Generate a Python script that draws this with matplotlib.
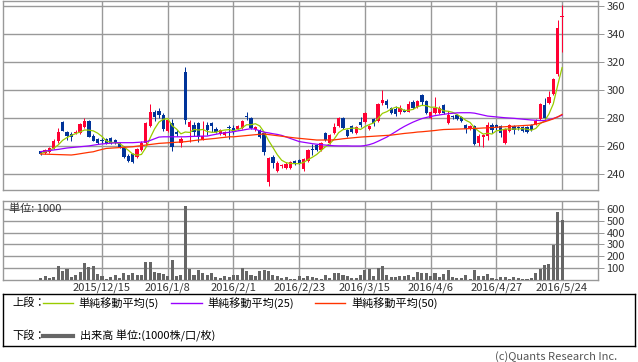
# -*- coding:utf-8 -*-
import numpy as np
import pandas as pd
import matplotlib
matplotlib.use('Agg')
import matplotlib.pyplot as plt

# 日本語フォント
plt.rcParams['font.family'] = ['Noto Sans CJK JP', 'DejaVu Sans']

# 日足 (2015/11/24 ~ 2016/5/24, 120本)
open_ = [256.4, 255.0, 255.7, 258.6, 263.6, 277.1, 270.0, 268.6, 269.3, 269.3,
         273.8, 278.1, 267.1, 265.0, 264.3, 265.0, 265.7, 264.3, 262.1, 259.3,
         252.9, 254.3, 252.1, 257.1, 262.1, 274.3, 284.3, 285.0, 282.1, 270.7,
         276.4, 270.0, 262.1, 312.9, 273.6, 275.0, 276.4, 264.3, 275.0, 276.4,
         272.1, 268.6, 267.9, 273.0, 272.9, 272.1, 272.9, 281.4, 280.0, 272.1,
         271.4, 269.3, 234.3, 252.1, 242.1, 245.7, 244.3, 244.3, 249.3, 250.0,
         243.6, 249.3, 258.0, 260.7, 257.1, 269.3, 262.1, 269.3, 274.3, 280.0,
         271.4, 274.3, 269.5, 277.4, 277.4, 271.9, 279.0, 278.1, 291.0, 292.1,
         286.9, 286.2, 284.5, 285.7, 284.5, 291.7, 288.1, 296.4, 292.1, 280.0,
         283.6, 283.6, 289.3, 276.4, 281.4, 282.1, 280.7, 275.0, 272.1, 274.3,
         262.1, 266.4, 267.1, 275.0, 275.0, 274.3, 262.1, 270.7, 274.3, 273.0,
         273.6, 273.6, 275.0, 275.7, 279.3, 289.3, 290.7, 297.1, 311.4, 352.1]
high = [256.8, 258.0, 259.3, 265.0, 273.0, 278.0, 270.7, 270.0, 271.4, 276.4,
        280.0, 278.6, 268.6, 265.7, 265.7, 265.7, 266.4, 265.0, 262.9, 260.0,
        254.3, 255.0, 258.6, 263.6, 277.1, 290.0, 285.7, 287.1, 283.6, 279.3,
        279.3, 271.4, 266.4, 316.4, 278.6, 277.1, 277.1, 278.0, 277.1, 277.1,
        273.6, 272.1, 270.7, 275.0, 275.0, 275.0, 278.6, 284.3, 280.7, 274.3,
        272.1, 270.0, 252.1, 253.6, 249.3, 247.1, 248.6, 249.3, 250.0, 250.7,
        251.4, 257.9, 261.4, 261.4, 262.9, 270.0, 268.6, 276.4, 280.7, 280.7,
        272.1, 275.0, 274.3, 280.7, 284.3, 275.0, 280.0, 290.7, 300.0, 293.6,
        287.9, 288.6, 289.3, 286.4, 292.1, 292.9, 292.9, 297.1, 292.9, 285.0,
        295.0, 288.6, 290.0, 285.0, 282.1, 282.9, 281.4, 275.7, 275.0, 275.0,
        268.6, 268.6, 277.1, 276.4, 275.7, 275.0, 272.9, 275.7, 275.0, 274.3,
        274.3, 274.3, 275.7, 279.3, 290.7, 294.3, 299.3, 308.6, 350.0, 360.7]
low = [253.8, 254.3, 255.0, 258.0, 262.1, 270.7, 264.3, 263.6, 268.6, 268.6,
       272.9, 266.4, 263.6, 261.4, 262.1, 261.4, 261.4, 261.4, 258.6, 251.4,
       248.6, 247.9, 251.4, 256.4, 261.4, 273.6, 277.9, 280.0, 270.7, 270.0,
       256.4, 267.1, 259.3, 275.7, 262.9, 267.1, 262.9, 264.3, 267.9, 270.0,
       269.3, 267.9, 267.1, 265.0, 268.6, 271.4, 272.1, 278.6, 272.1, 270.7,
       265.7, 253.6, 231.4, 244.3, 241.4, 244.3, 243.6, 243.6, 246.4, 247.1,
       242.1, 248.6, 253.6, 256.4, 256.4, 263.6, 261.4, 268.6, 273.6, 272.1,
       266.4, 269.3, 268.6, 273.3, 276.4, 271.4, 274.3, 277.1, 289.3, 287.1,
       282.9, 281.4, 283.0, 284.0, 284.0, 286.2, 287.4, 289.3, 282.9, 279.3,
       282.9, 282.9, 282.9, 275.7, 279.3, 278.6, 277.1, 269.3, 271.4, 260.7,
       260.0, 259.3, 264.3, 269.3, 271.4, 266.4, 261.4, 270.0, 268.6, 271.4,
       270.0, 269.3, 270.7, 275.0, 278.6, 279.3, 290.0, 296.4, 310.0, 327.1]
close = [254.6, 257.1, 258.6, 263.6, 270.0, 271.0, 267.1, 266.4, 270.0, 275.7,
         278.1, 266.6, 263.8, 261.9, 263.6, 262.1, 262.1, 262.1, 259.3, 252.1,
         249.3, 248.6, 257.9, 262.1, 276.4, 284.3, 280.7, 282.1, 272.1, 278.6,
         259.3, 268.6, 265.0, 278.6, 277.1, 270.0, 266.4, 267.1, 271.4, 274.3,
         270.0, 271.4, 270.0, 272.9, 270.0, 274.3, 277.9, 281.0, 272.9, 273.6,
         266.4, 255.7, 251.4, 247.9, 247.9, 246.4, 247.1, 248.6, 247.1, 247.9,
         250.7, 257.1, 257.1, 257.1, 262.1, 264.3, 267.9, 273.6, 280.0, 272.9,
         267.1, 270.2, 273.8, 275.0, 283.3, 274.3, 276.2, 290.0, 292.9, 289.3,
         283.8, 282.6, 286.9, 284.5, 290.0, 286.9, 292.1, 291.7, 283.6, 284.3,
         287.1, 287.1, 283.6, 282.1, 280.7, 279.3, 277.9, 272.1, 274.3, 261.4,
         267.1, 267.9, 275.0, 271.4, 272.9, 269.3, 272.1, 275.0, 271.4, 272.9,
         270.7, 270.0, 271.4, 277.9, 290.0, 280.0, 295.0, 307.9, 344.3, 352.9]

# 25日・50日移動平均 (チャートから読み取り)
ma25 = [256.0, 256.4, 256.8, 257.2, 257.6, 258.1, 258.6, 258.9, 259.2, 259.5,
        259.8, 260.1, 260.6, 261.1, 261.5, 261.8, 262.0, 262.3, 262.4, 262.4,
        262.4, 262.4, 262.6, 262.8, 263.0, 264.0, 265.2, 266.4, 266.6, 266.6,
        266.6, 266.6, 266.6, 266.6, 266.8, 266.9, 267.0, 267.1, 267.1, 267.8,
        268.4, 269.0, 269.4, 269.8, 270.2, 270.8, 271.3, 271.9, 272.4, 272.0,
        270.8, 269.9, 269.4, 268.8, 268.3, 267.6, 266.5, 265.4, 264.3, 263.2,
        262.7, 262.2, 261.7, 261.3, 261.0, 260.7, 260.4, 260.2, 260.1, 260.1,
        260.1, 260.0, 260.0, 260.0, 260.3, 261.0, 262.0, 263.4, 264.9, 266.4,
        268.3, 270.2, 272.2, 274.0, 275.6, 277.1, 278.4, 279.6, 280.4, 281.1,
        281.7, 282.2, 282.7, 283.1, 283.4, 283.7, 283.8, 283.8, 283.8, 283.5,
        282.8, 282.1, 281.4, 281.1, 280.8, 280.5, 280.2, 280.0, 279.8, 279.5,
        279.2, 278.9, 278.6, 278.4, 278.2, 278.2, 278.8, 279.7, 280.8, 282.1]
ma50 = [254.3, 254.2, 254.1, 254.0, 253.9, 253.8, 253.7, 253.6, 254.0, 254.5,
        255.0, 255.5, 255.9, 256.8, 257.6, 258.3, 258.5, 258.7, 258.9, 259.1,
        259.3, 259.5, 259.9, 260.3, 260.7, 261.1, 261.5, 261.9, 262.1, 262.3,
        262.5, 262.7, 262.9, 263.1, 263.5, 263.9, 264.3, 264.6, 264.9, 265.2,
        265.5, 265.9, 266.2, 266.6, 266.6, 266.9, 267.2, 267.5, 267.8, 268.1,
        268.4, 268.6, 268.2, 267.8, 267.4, 267.0, 266.6, 266.2, 265.8, 265.5,
        265.2, 264.9, 264.6, 264.3, 264.3, 264.3, 264.3, 264.4, 264.8, 265.2,
        265.5, 265.8, 266.1, 266.4, 266.6, 266.8, 267.0, 267.2, 267.4, 267.6,
        267.8, 268.2, 268.6, 269.0, 269.3, 269.6, 270.0, 270.2, 270.5, 270.8,
        271.1, 271.5, 271.8, 271.9, 272.0, 272.1, 272.2, 272.3, 272.5, 272.6,
        272.7, 272.9, 273.0, 273.2, 273.4, 273.6, 273.8, 274.0, 274.2, 274.4,
        274.6, 274.8, 275.0, 275.6, 276.4, 277.3, 278.3, 279.4, 280.8, 282.6]

# 出来高 (単位: 1000)
volume = [20, 31, 17, 23, 116, 76, 90, 23, 40, 68,
          141, 107, 116, 48, 31, 8, 28, 40, 17, 56,
          45, 59, 40, 40, 150, 150, 68, 56, 51, 34,
          167, 34, 40, 622, 96, 45, 85, 56, 45, 56,
          28, 17, 31, 23, 40, 40, 105, 76, 45, 37,
          76, 85, 73, 40, 31, 17, 25, 11, 11, 31,
          20, 34, 25, 20, 11, 40, 20, 62, 56, 40,
          37, 14, 17, 40, 85, 90, 34, 105, 116, 40,
          28, 25, 34, 34, 40, 28, 68, 56, 56, 34,
          62, 23, 48, 82, 28, 20, 14, 40, 6, 82,
          34, 34, 48, 17, 6, 28, 25, 11, 23, 20,
          11, 8, 14, 56, 90, 124, 133, 294, 576, 506]

# 日付ラベル
tick_idx = [14, 29, 44, 59, 74, 89, 104, 119]
tick_labels = ['2015/12/15', '2016/1/8', '2016/2/1', '2016/2/23',
               '2016/3/15', '2016/4/6', '2016/4/27', '2016/5/24']

red = '#FF0033'
blue = '#003399'
grid_c = '#999999'
px = 0.72  # 1ピクセル

x = np.arange(len(close))
o = np.array(open_)
c = np.array(close)
ma5 = pd.Series(close).rolling(5, min_periods=1).mean()

W, H = 638, 362
fig = plt.figure(figsize=(W / 100, H / 100), dpi=100)
ax = fig.add_axes([3 / W, 1 - 190 / H, 595 / W, 189 / H])
ax2 = fig.add_axes([3 / W, 1 - 280 / H, 595 / W, 79 / H])

# 上段: ローソク足
up = c >= o
colors = np.where(up, red, blue)
ax.vlines(x, low, high, colors=colors, lw=px, zorder=3)
body_h = np.maximum(np.abs(c - o), 0.6)
ax.bar(x, body_h, bottom=np.minimum(o, c), width=0.75, color=colors,
       edgecolor='none', zorder=4)
ax.plot(x, ma5, color='#99CC00', lw=0.9, zorder=5)
ax.plot(x, ma25, color='#9900FF', lw=0.9, zorder=5)
ax.plot(x, ma50, color='#FF3300', lw=0.9, zorder=5)

ax.set_xlim(-8.6, 127.2)
ax.set_ylim(228.6, 363.6)
ax.set_yticks(range(240, 361, 20))
ax.set_xticks(tick_idx)
ax.tick_params(axis='x', length=0, labelbottom=False)
ax.yaxis.tick_right()
ax.tick_params(axis='y', length=4, width=px, color=grid_c, labelsize=8,
               labelcolor='#333333', pad=2)
ax.grid(True, color=grid_c, lw=1.0)
ax.set_axisbelow(True)

# 下段: 出来高
ax2.bar(x, volume, width=0.7, color='#666666', zorder=3)
ax2.set_xlim(-8.6, 127.2)
ax2.set_ylim(0, 666)
ax2.set_yticks(range(100, 601, 100))
ax2.set_xticks(tick_idx)
ax2.set_xticklabels(tick_labels)
ax2.tick_params(axis='x', length=0, labelsize=8, labelcolor='#333333', pad=2)
ax2.yaxis.tick_right()
ax2.tick_params(axis='y', length=4, width=px, color=grid_c, labelsize=8,
                labelcolor='#333333', pad=2)
ax2.grid(True, color=grid_c, lw=1.0)
ax2.set_axisbelow(True)
ax2.text(0.01, 0.9, '単位: 1000', transform=ax2.transAxes, fontsize=8,
         color='#333333', va='center', zorder=5)

for a in (ax, ax2):
    for s in a.spines.values():
        s.set_color(grid_c)
        s.set_linewidth(1.0)

# 凡例の枠
lg = fig.add_axes([3 / W, 1 - 346 / H, 632 / W, 52 / H])
lg.set_xlim(0, 632)
lg.set_ylim(52, 0)
lg.set_xticks([])
lg.set_yticks([])
for s in lg.spines.values():
    s.set_color('black')
    s.set_linewidth(1.0)
fs = 8
lg.text(9, 9, '上段：', fontsize=fs, va='center')
lg.plot([40, 70], [9, 9], color='#99CC00', lw=1)
lg.text(75, 9, '単純移動平均(5)', fontsize=fs, va='center')
lg.plot([168, 199], [9, 9], color='#9900FF', lw=1)
lg.text(204, 9, '単純移動平均(25)', fontsize=fs, va='center')
lg.plot([312, 342], [9, 9], color='#FF3300', lw=1)
lg.text(348, 9, '単純移動平均(50)', fontsize=fs, va='center')
lg.text(9, 42, '下段：', fontsize=fs, va='center')
lg.plot([40, 70], [42, 42], color='#666666', lw=3)
lg.text(77, 42, '出来高 単位:(1000株/口/枚)', fontsize=fs, va='center')

fig.text(617 / W, 1 - 357 / H, '(c)Quants Research Inc.', fontsize=8,
         color='#555555', ha='right', va='center')

fig.savefig('out.png', dpi=100)
